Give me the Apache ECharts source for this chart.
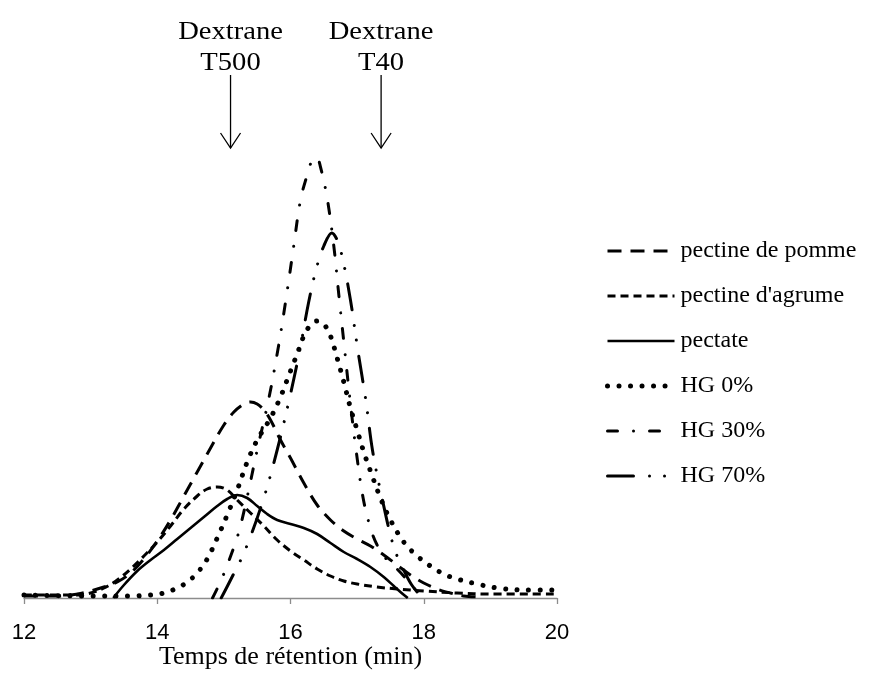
<!DOCTYPE html>
<html><head><meta charset="utf-8">
<script src="https://cdn.jsdelivr.net/npm/echarts@6/dist/echarts.min.js"></script>
<style>html,body{margin:0;padding:0;background:#fff}#c{width:879px;height:677px}</style>
</head><body><div id="c"></div>
<script>
// Retention time (min) and detector signal (arbitrary units)
const seriesNames = ['pectine de pomme', "pectine d'agrume", 'pectate', 'HG 0%', 'HG 30%', 'HG 70%'];

const pommeTime   = [12.0, 12.5, 12.8, 13.0, 13.2, 13.4, 13.6, 13.8, 14.0, 14.2, 14.4, 14.6, 14.8, 15.0, 15.15, 15.3, 15.4, 15.5, 15.6, 15.7, 15.85, 16.0, 16.2, 16.4, 16.6, 16.8, 17.0, 17.2, 17.4, 17.6, 17.8, 18.0, 18.2, 18.4, 18.6, 18.85];
const pommeSignal = [2, 2, 4, 7, 11, 16, 25, 39, 57, 78, 102, 126, 150, 173, 186, 194, 196, 194, 188, 178, 158, 140, 115, 93, 78, 67, 59, 52, 43, 33, 23, 15, 9, 5, 2, 1];

const agrumeTime   = [12.0, 12.8, 13.0, 13.2, 13.4, 13.6, 13.8, 14.0, 14.2, 14.4, 14.6, 14.75, 14.9, 15.05, 15.2, 15.4, 15.6, 15.8, 16.0, 16.2, 16.4, 16.6, 16.8, 17.0, 17.3, 17.6, 18.0, 18.5, 19.0, 20.0];
const agrumeSignal = [3, 3, 5, 10, 18, 29, 42, 56, 72, 89, 102, 109, 111, 108, 98, 85, 72, 58, 47, 38, 29, 22, 17, 14, 11, 9, 7, 5, 4, 4];

const pectateTime   = [13.34, 13.5, 13.7, 13.9, 14.1, 14.3, 14.5, 14.7, 14.9, 15.05, 15.2, 15.35, 15.5, 15.65, 15.8, 16.0, 16.2, 16.4, 16.6, 16.8, 17.0, 17.2, 17.4, 17.55, 17.65, 17.76];
const pectateSignal = [0, 13, 27, 38, 48, 59, 70, 81, 92, 99, 103, 100, 92, 84, 78, 74, 70, 64, 55, 46, 39, 31, 21, 12, 6, 0];

const hg0Time   = [12.0, 13.0, 13.6, 13.9, 14.1, 14.3, 14.45, 14.6, 14.75, 14.9, 15.05, 15.2, 15.35, 15.5, 15.7, 15.85, 16.0, 16.1, 16.2, 16.3, 16.4, 16.5, 16.6, 16.7, 16.8, 16.9, 17.0, 17.1, 17.2, 17.35, 17.5, 17.7, 17.9, 18.1, 18.3, 18.5, 18.8, 19.1, 19.5, 20.0];
const hg0Signal = [3, 2, 2, 3, 5, 10, 16, 25, 39, 60, 83, 108, 136, 158, 180, 201, 227, 244, 262, 273, 277, 274, 262, 240, 216, 190, 168, 146, 127, 100, 78, 56, 42, 32, 24, 19, 14, 10, 8, 8];

const hg30Time   = [14.83, 14.96, 15.08, 15.22, 15.34, 15.5, 15.67, 15.81, 15.93, 16.04, 16.15, 16.25, 16.32, 16.39, 16.45, 16.55, 16.65, 16.73, 16.81, 16.89, 16.98, 17.09, 17.2, 17.3, 17.45, 17.6, 17.75, 17.88, 17.98];
const hg30Signal = [0, 18, 38, 65, 98, 148, 198, 248, 298, 348, 398, 423, 437, 441, 431, 400, 352, 300, 250, 200, 150, 100, 70, 53, 38, 29, 18, 8, 0];

const hg70Time   = [14.96, 15.1, 15.32, 15.59, 15.8, 15.98, 16.14, 16.27, 16.39, 16.5, 16.62, 16.7, 16.78, 16.9, 17.01, 17.13, 17.23, 17.38, 17.55, 17.7, 17.82, 17.98];
const hg70Signal = [0, 18, 48, 98, 148, 198, 248, 295, 330, 352, 365, 358, 340, 298, 248, 198, 148, 98, 51, 28, 13, 0];

const xTicks = [12, 14, 16, 18, 20];
const markerTimes  = [15.10, 17.36];
const markerLabels = ['Dextrane\nT500', 'Dextrane\nT40'];

function pairs(t, v) { return t.map((x, i) => [x, v[i]]); }

const styles = [
  {width: 3, type: [14, 9], cap: 'butt'},
  {width: 3, type: [8, 5], cap: 'butt'},
  {width: 2.6, type: 'solid', cap: 'butt'},
  {width: 5, type: [0.01, 11.5], cap: 'round'},
  {width: 3, type: [10, 16, 0.01, 16], cap: 'round'},
  {width: 3, type: [26, 16, 0.01, 15, 0.01, 16], cap: 'round'}
];
const dataSets = [
  pairs(pommeTime, pommeSignal), pairs(agrumeTime, agrumeSignal), pairs(pectateTime, pectateSignal),
  pairs(hg0Time, hg0Signal), pairs(hg30Time, hg30Signal), pairs(hg70Time, hg70Signal)
];

const chart = echarts.init(document.getElementById('c'), null, {renderer: 'canvas'});
chart.setOption({
  animation: false,
  backgroundColor: '#fff',
  grid: {left: 24, right: 322, top: 140, bottom: 79, containLabel: false, outerBoundsMode: 'none'},
  xAxis: {
    type: 'value', min: xTicks[0], max: xTicks[xTicks.length - 1], interval: 2,
    axisLine: {lineStyle: {color: '#8c8c8c', width: 1.3}},
    axisTick: {show: true, length: 6, lineStyle: {color: '#8c8c8c', width: 1.3}},
    axisLabel: {margin: 24, color: '#000', fontSize: 22, fontFamily: 'Liberation Sans'},
    splitLine: {show: false},
    name: 'Temps de rétention (min)', nameLocation: 'middle', nameGap: 46, nameMoveOverlap: false,
    nameTextStyle: {color: '#000', fontSize: 26, fontFamily: 'Liberation Serif'}
  },
  yAxis: {type: 'value', min: 0, max: 458, show: false},
  legend: {
    orient: 'vertical', left: 605, top: 239, padding: 0, itemWidth: 67, itemHeight: 14, itemGap: 21,
    itemStyle: {opacity: 0},
    lineStyle: {width: 'inherit'},
    textStyle: {fontFamily: 'Liberation Serif', fontSize: 24, color: '#000', lineHeight: 24, padding: [0, 0, 0, 1]},
    data: seriesNames
  },
  series: seriesNames.map((n, i) => ({
    name: n, type: 'line', data: dataSets[i], showSymbol: false, symbol: 'none',
    smooth: 0.35, color: '#000',
    lineStyle: {color: '#000', width: styles[i].width, type: styles[i].type, cap: styles[i].cap, join: 'round'}
  }))
});

const graphics = [];
markerTimes.forEach((t, i) => {
  const x = chart.convertToPixel({xAxisIndex: 0}, t);
  graphics.push({type: 'text', x: x, y: 48, scaleX: 1.1, style: {text: markerLabels[i], fill: '#000', font: '26px "Liberation Serif"', textAlign: 'center', textVerticalAlign: 'middle', lineHeight: 31}});
  graphics.push({type: 'polyline', shape: {points: [[x, 75], [x, 148]]}, style: {stroke: '#000', lineWidth: 1.3}});
  graphics.push({type: 'polyline', shape: {points: [[x - 10, 133], [x, 148], [x + 10, 133]]}, style: {stroke: '#000', lineWidth: 1.3, fill: null}});
});
chart.setOption({graphic: graphics});
</script></body></html>
